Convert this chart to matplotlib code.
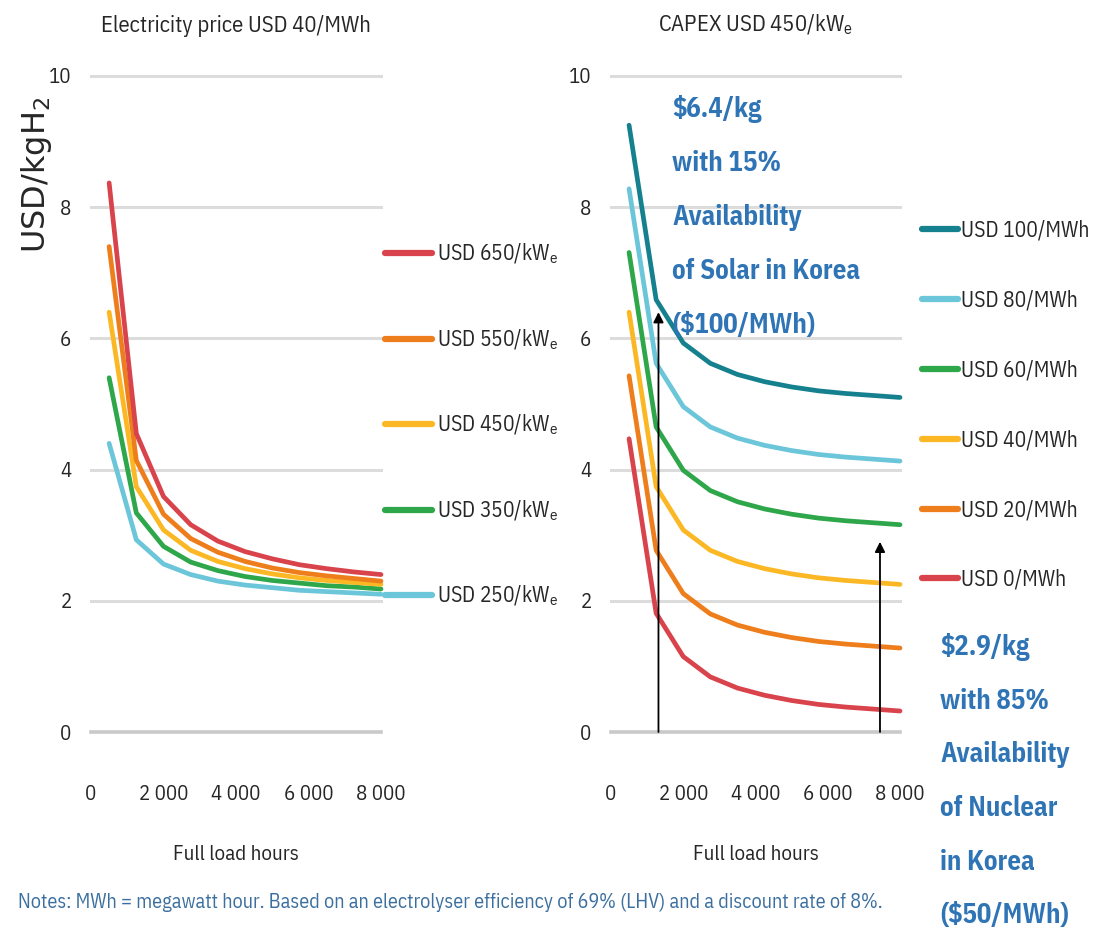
import matplotlib
matplotlib.use("Agg")
import matplotlib.pyplot as plt
from matplotlib.lines import Line2D

plt.rcParams["font.family"] = ["IBM Plex Sans Condensed", "DejaVu Sans"]
plt.rcParams["mathtext.default"] = "regular"

# Full load hours at which the cost was evaluated
hours = [500, 1250, 2000, 2750, 3500, 4250, 5000, 5750, 6500, 7250, 8000]

# Left panel: electricity price fixed at USD 40/MWh, varying electrolyser CAPEX
capex_labels = ["USD 650/kW$_e$", "USD 550/kW$_e$", "USD 450/kW$_e$",
                "USD 350/kW$_e$", "USD 250/kW$_e$"]
capex_650 = [8.37, 4.55, 3.59, 3.16, 2.91, 2.75, 2.64, 2.55, 2.49, 2.44, 2.40]
capex_550 = [7.40, 4.14, 3.32, 2.95, 2.74, 2.60, 2.50, 2.43, 2.38, 2.34, 2.30]
capex_450 = [6.40, 3.74, 3.08, 2.77, 2.60, 2.49, 2.41, 2.35, 2.31, 2.28, 2.25]
capex_350 = [5.40, 3.34, 2.83, 2.59, 2.46, 2.37, 2.31, 2.27, 2.23, 2.21, 2.18]
capex_250 = [4.40, 2.93, 2.56, 2.40, 2.30, 2.24, 2.20, 2.16, 2.14, 2.12, 2.10]

# Right panel: CAPEX fixed at USD 450/kWe, varying electricity price
price_labels = ["USD 100/MWh", "USD 80/MWh", "USD 60/MWh",
                "USD 40/MWh", "USD 20/MWh", "USD 0/MWh"]
price_100 = [9.25, 6.59, 5.93, 5.62, 5.45, 5.34, 5.26, 5.20, 5.16, 5.13, 5.10]
price_80 = [8.28, 5.62, 4.96, 4.65, 4.48, 4.37, 4.29, 4.23, 4.19, 4.16, 4.13]
price_60 = [7.31, 4.65, 3.99, 3.68, 3.51, 3.40, 3.32, 3.26, 3.22, 3.19, 3.16]
price_40 = [6.40, 3.74, 3.08, 2.77, 2.60, 2.49, 2.41, 2.35, 2.31, 2.28, 2.25]
price_20 = [5.43, 2.77, 2.11, 1.80, 1.63, 1.52, 1.44, 1.38, 1.34, 1.31, 1.28]
price_0 = [4.47, 1.81, 1.15, 0.84, 0.67, 0.56, 0.48, 0.42, 0.38, 0.35, 0.32]

x_ticks = [0, 2000, 4000, 6000, 8000]
x_tick_labels = ["0", "2 000", "4 000", "6 000", "8 000"]
y_ticks = [0, 2, 4, 6, 8, 10]

# Availability markers (hours per year) and the costs they point to
solar_hours, solar_cost = 0.15 * 8760, 6.4
nuclear_hours, nuclear_cost = 0.85 * 8760, 2.9

RED, ORANGE, YELLOW = "#d8434c", "#ee7d1c", "#fbb824"
GREEN, CYAN, TEAL = "#2ea64a", "#6cc6d9", "#15808e"
GRID = "#dcdcdc"
TEXT = "#262626"
BLUE = "#2f74b5"
NOTE_BLUE = "#3b6f9f"
TICK_FS = 15
TITLE_FS = 16.3
LEG_FS = 15.5

W, H = 1099, 936
fig = plt.figure(figsize=(W / 100, H / 100), dpi=100)


def px_axes(x0, x1, y_top, y_bottom):
    return fig.add_axes([x0 / W, 1 - y_bottom / H, (x1 - x0) / W, (y_bottom - y_top) / H])


def style_axes(ax):
    ax.set_xlim(0, 8000)
    ax.set_ylim(0, 10)
    for s in ax.spines.values():
        s.set_visible(False)
    for y in y_ticks:
        ax.axhline(y, color="#c9c9c9" if y == 0 else GRID,
                   lw=2.6 if y == 0 else 2.2, zorder=0, clip_on=False)
    ax.set_xticks(x_ticks)
    ax.set_xticklabels(x_tick_labels)
    ax.set_yticks(y_ticks)
    ax.tick_params(axis="x", length=0, pad=38, labelsize=TICK_FS, labelcolor=TEXT)
    ax.tick_params(axis="y", length=0, pad=14, labelsize=TICK_FS, labelcolor=TEXT)
    ax.set_xlabel("Full load hours", fontsize=TICK_FS, color=TEXT, labelpad=30)


# Left panel
axL = px_axes(91, 381, 76, 732)
style_axes(axL)
left_series = [capex_650, capex_550, capex_450, capex_350, capex_250]
left_colors = [RED, ORANGE, YELLOW, GREEN, CYAN]
for vals, c in zip(left_series[::-1], left_colors[::-1]):
    axL.plot(hours, vals, color=c, lw=3.4, solid_capstyle="round", clip_on=False)
axL.set_title("Electricity price USD 40/MWh", fontsize=TITLE_FS, color=TEXT, pad=32)

handlesL = [Line2D([], [], color=c, lw=4.5, solid_capstyle="round") for c in left_colors]
fig.legend(handlesL, capex_labels, loc="upper left",
           bbox_to_anchor=(385 / W, 1 - 242 / H), frameon=False,
           fontsize=LEG_FS, handlelength=2.2, handletextpad=0.2,
           labelspacing=2.85, borderpad=0, borderaxespad=0, labelcolor=TEXT)

fig.text(37 / W, 1 - 175 / H, "USD/kgH$_2$", rotation=90, ha="center", va="center",
         fontsize=23, color=TEXT, family="DejaVu Sans")

# Right panel
axR = px_axes(611, 900, 76, 732)
style_axes(axR)
right_series = [price_100, price_80, price_60, price_40, price_20, price_0]
right_colors = [TEAL, CYAN, GREEN, YELLOW, ORANGE, RED]
for vals, c in zip(right_series, right_colors):
    axR.plot(hours, vals, color=c, lw=3.4, solid_capstyle="round", clip_on=False)
axR.set_title("CAPEX USD 450/kW$_e$", fontsize=TITLE_FS, color=TEXT, pad=32)

handlesR = [Line2D([], [], color=c, lw=4.5, solid_capstyle="round") for c in right_colors]
fig.legend(handlesR, price_labels, loc="upper left",
           bbox_to_anchor=(922 / W, 1 - 220 / H), frameon=False,
           fontsize=LEG_FS, handlelength=1.67, handletextpad=0.12,
           labelspacing=2.22, borderpad=0, borderaxespad=0, labelcolor=TEXT)

arrow_style = dict(arrowstyle="-|>", color="black", lw=1.3, mutation_scale=15,
                   shrinkA=0, shrinkB=0)
axR.annotate("", xy=(solar_hours, solar_cost), xytext=(solar_hours, 0),
             arrowprops=arrow_style, annotation_clip=False)
axR.annotate("", xy=(nuclear_hours, nuclear_cost), xytext=(nuclear_hours, 0),
             arrowprops=arrow_style, annotation_clip=False)

fig.text(672 / W, 1 - 95 / H,
         "$6.4/kg\nwith 15%\nAvailability\nof Solar in Korea\n($100/MWh)",
         ha="left", va="top", fontsize=19.3, fontweight="bold", color=BLUE,
         linespacing=2.28)
fig.text(940 / W, 1 - 633 / H,
         "$2.9/kg\nwith 85%\nAvailability\nof Nuclear\nin Korea\n($50/MWh)",
         ha="left", va="top", fontsize=19.3, fontweight="bold", color=BLUE,
         linespacing=2.27)

fig.text(18 / W, 1 - 903 / H,
         "Notes: MWh = megawatt hour. Based on an electrolyser efficiency of 69% "
         "(LHV) and a discount rate of 8%.",
         ha="left", va="center", fontsize=14.5, color=NOTE_BLUE)

fig.savefig("out.png", dpi=100)
